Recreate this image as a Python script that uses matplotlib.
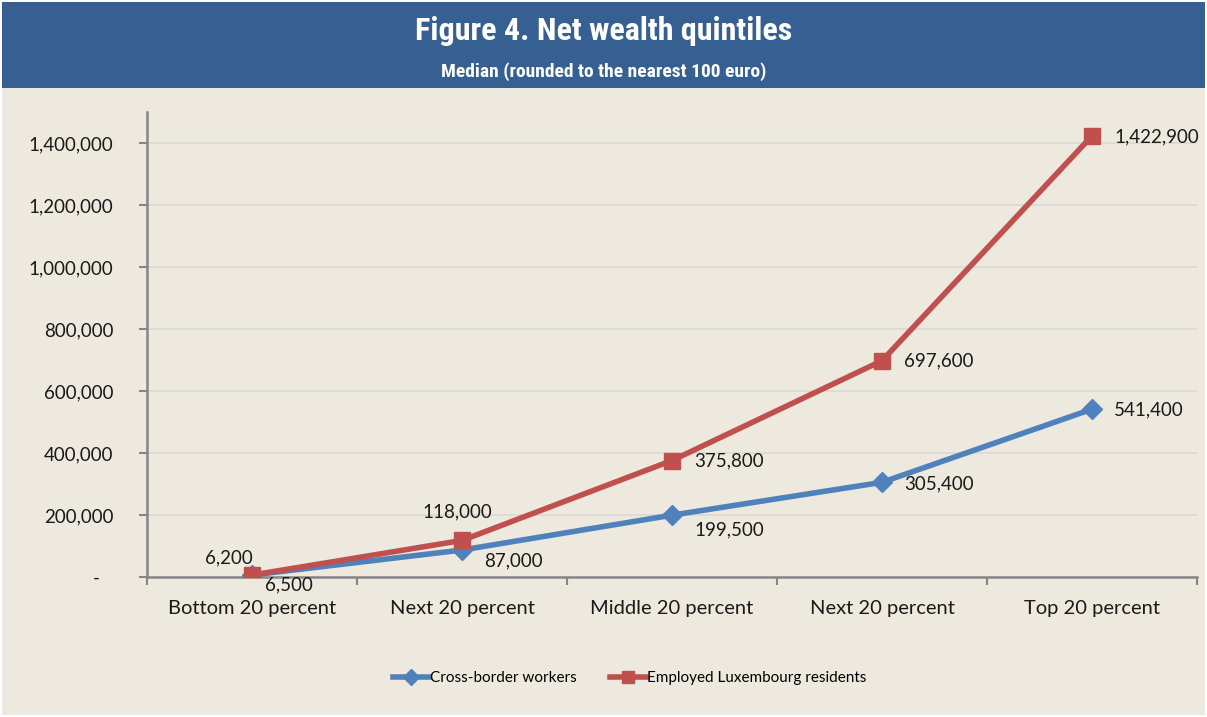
import matplotlib
matplotlib.use("Agg")
import matplotlib.pyplot as plt
from matplotlib.patches import Rectangle
from matplotlib.ticker import FuncFormatter

categories = ["Bottom 20 percent", "Next 20 percent", "Middle 20 percent",
              "Next 20 percent", "Top 20 percent"]
cross_border = [6500, 87000, 199500, 305400, 541400]
residents = [6200, 118000, 375800, 697600, 1422900]
series_names = ["Cross-border workers", "Employed Luxembourg residents"]

body_font = ["Lato", "DejaVu Sans"]
head_font = ["Liberation Sans Narrow", "Roboto Condensed", "Liberation Sans", "DejaVu Sans"]

fig = plt.figure(figsize=(12.07, 7.17), dpi=100)
fig.patch.set_facecolor("white")

# beige panel + blue header band
fig.patches.append(Rectangle((2/1207, 2/717), 1203/1207, 713/717, transform=fig.transFigure,
                             facecolor="#ede9df", edgecolor="none", zorder=-2))
fig.patches.append(Rectangle((2/1207, 1 - 88/717), 1203/1207, 86/717, transform=fig.transFigure,
                             facecolor="#376092", edgecolor="none", zorder=-1))
fig.text(0.5, 1 - 31/717, "Figure 4. Net wealth quintiles", ha="center", va="center",
         color="white", fontsize=23, fontweight="bold", family=head_font)
fig.text(0.5, 1 - 72/717, "Median (rounded to the nearest 100 euro)", ha="center", va="center",
         color="white", fontsize=14, fontweight="bold", family=head_font)

ax = fig.add_axes([147/1207, 1 - 577/717, 1050/1207, 465/717])
ax.set_facecolor("none")
x = list(range(len(categories)))

ax.plot(x, cross_border, color="#4f81bd", lw=4, marker="D", ms=10.5,
        label=series_names[0], zorder=3)
ax.plot(x, residents, color="#c0504d", lw=4, marker="s", ms=11.5,
        label=series_names[1], zorder=4)

ax.set_xlim(-0.5, 4.5)
ax.set_ylim(0, 1500000)
ax.set_yticks(range(0, 1400001, 200000))
ax.yaxis.set_major_formatter(FuncFormatter(lambda v, p: "-   " if v == 0 else f"{int(v):,}"))
ax.grid(axis="y", color="#dcd9d2", lw=1.2)
ax.set_axisbelow(True)

ax.set_xticks([i - 0.5 for i in range(len(categories) + 1)])
ax.set_xticklabels([])
ax.set_xticks(x, minor=True)
ax.set_xticklabels(categories, minor=True)
ax.tick_params(axis="x", which="minor", length=0, pad=16.5)
ax.tick_params(axis="x", which="major", length=6, width=1.5, color="#868686")
ax.tick_params(axis="y", length=6, width=1.5, color="#868686", pad=18)
for lab in ax.get_xticklabels(minor=True):
    lab.set_family(body_font)
    lab.set_fontsize(14.5)
    lab.set_color("#1a1a1a")
for lab in ax.get_yticklabels():
    lab.set_family(body_font)
    lab.set_fontsize(13.5)
    lab.set_color("#1a1a1a")

for s in ["top", "right"]:
    ax.spines[s].set_visible(False)
for s in ["left", "bottom"]:
    ax.spines[s].set_color("#868686")
    ax.spines[s].set_linewidth(1.8)

# data labels (offsets in pixels)
red_off = [(1, 17, "right"), (-5, 29, "center"), (22, 0, "left"), (22, 0, "left"), (22, -1, "left")]
blue_off = [(13, -10, "left"), (22, -11, "left"), (22, -15, "left"), (22, -2, "left"), (22, -1, "left")]
for i, v in enumerate(residents):
    dx, dy, ha = red_off[i]
    ax.annotate(f"{v:,}", (i, v), xytext=(dx, dy), textcoords="offset pixels",
                ha=ha, va="center", fontsize=13.5, family=body_font, color="#1a1a1a")
for i, v in enumerate(cross_border):
    dx, dy, ha = blue_off[i]
    ax.annotate(f"{v:,}", (i, v), xytext=(dx, dy), textcoords="offset pixels",
                ha=ha, va="center", fontsize=13.5, family=body_font, color="#1a1a1a")

leg = fig.legend(loc="center", bbox_to_anchor=(630/1207, 1 - 678/717), ncol=2, frameon=False,
                 prop={"family": body_font, "size": 11}, handlelength=2.3, columnspacing=2.2,
                 handletextpad=0.1, markerscale=0.8)

fig.savefig("out.png", dpi=100, facecolor=fig.get_facecolor())
